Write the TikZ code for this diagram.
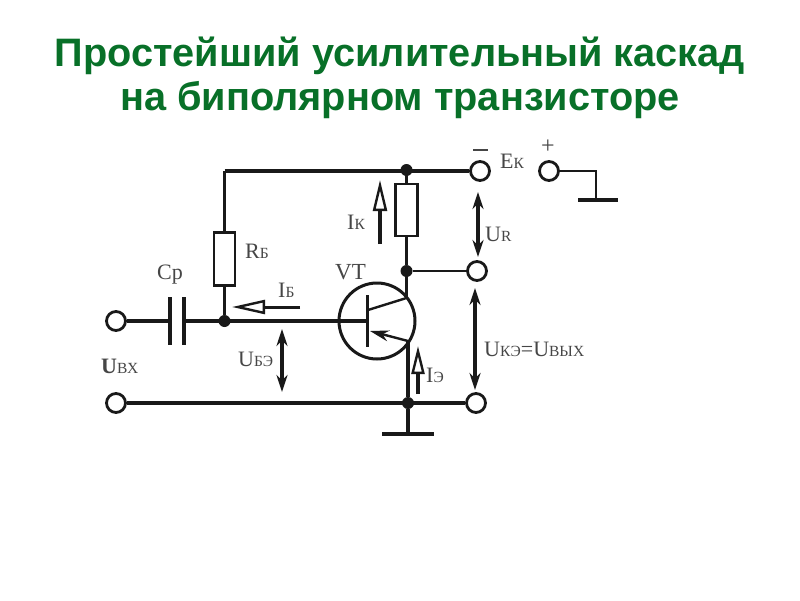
\documentclass[tikz,border=0pt]{standalone}
\usepackage{fontspec}
\setmainfont{Liberation Serif}
\newfontfamily\titlefont{Liberation Sans}
\usetikzlibrary{arrows.meta}
\definecolor{titlegreen}{RGB}{8,112,40}
\definecolor{lab}{RGB}{70,70,70}
\definecolor{ink}{RGB}{25,25,25}
\newcommand{\lbl}[2]{{\fontsize{22}{22}\selectfont #1}{\fontsize{15.5}{15.5}\selectfont #2}}
\tikzset{
  titletext/.style={font=\titlefont\bfseries\fontsize{39.7}{44}\selectfont,text=titlegreen,inner sep=0pt,anchor=center},
  term/.style={circle,draw=ink,line width=2.8pt,fill=white,minimum size=19pt,inner sep=0pt},
  junc/.style={circle,fill=ink,minimum size=12pt,inner sep=0pt},
  res/.style={rectangle,draw=ink,line width=2.4pt,fill=white,inner sep=0pt},
  wthick/.style={draw=ink,line width=3.6pt},
  wmid/.style={draw=ink,line width=2.4pt},
  volt/.style={draw=ink,line width=3.2pt,{Stealth[length=17pt,width=11pt]}-{Stealth[length=17pt,width=11pt]}},
  curr/.style={draw=ink,line width=3.6pt,-{Triangle[open,length=31pt,width=14pt,line width=2.4pt,fill=white]}},
  txt/.style={text=lab,inner sep=0pt}
}
\begin{document}
\begin{tikzpicture}[x=1pt,y=-1pt]
\useasboundingbox[fill=white] (0,0) rectangle (800,600);
\node[titletext] (t1) at (400,56) {Простейший усилительный каскад};
\node[titletext] (t2) at (400,100) {на биполярном транзисторе};

% junctions and terminals
\node[term] (tm) at (480,171) {};
\node[term] (tp) at (549,171) {};
\node[term] (tr) at (477,271) {};
\node[term] (te) at (476,403) {};
\node[term] (ti) at (116,321) {};
\node[term] (tg) at (116,403) {};
\node[res,minimum width=22pt,minimum height=52pt] (rk) at (406.5,210) {};
\node[res,minimum width=21pt,minimum height=53pt] (rb) at (224.5,259) {};
\coordinate (jtopcorner) at (224.5,171);
\coordinate (gpos) at (596,171);
\coordinate (gposb) at (596,200);
\coordinate (gp1) at (578,200);
\coordinate (gp2) at (618,200);
\coordinate (g1) at (382,434);
\coordinate (g2) at (434,434);
\coordinate (gm) at (408,434);
\coordinate (c1) at (170,321);
\coordinate (c2) at (184,321);
\coordinate (c1a) at (170,297);
\coordinate (c1b) at (170,345);
\coordinate (c2a) at (184,297);
\coordinate (c2b) at (184,345);
\coordinate (bar) at (367,321);
\coordinate (bara) at (367,295);
\coordinate (barb) at (367,347);
\coordinate (colin) at (368,310);
\coordinate (colout) at (406.5,298);
\coordinate (emout) at (408,341);
\coordinate (emin) at (370,331);

\draw[wthick] (jtopcorner) -- (tm);
\draw[wmid] (jtopcorner) -- (rb.north);
\draw[wmid] (tp) -- (gpos) -- (gposb);
\draw[draw=ink,line width=3.8pt] (gp1) -- (gp2);
\draw[draw=ink,line width=3.8pt] (g1) -- (g2);
\node[junc] (j1) at (406.5,170) {};
\draw[wmid] (j1) -- (rk.north);
\node[junc] (j2) at (406.5,271) {};
\draw[wmid] (rk.south) -- (j2);
\draw[wmid] (j2) -- (tr);
\node[junc] (j3) at (224.5,321) {};
\draw[wmid] (rb.south) -- (j3);
\node[junc] (j4) at (408,403) {};
\draw[wthick] (ti) -- (c1);
\draw[wthick] (c2) -- (bar);
\draw[wthick] (c1a) -- (c1b);
\draw[wthick] (c2a) -- (c2b);
\draw[wthick] (tg) -- (te);
\draw[wthick] (emout) -- (j4);
\draw[wthick] (j4) -- (gm);

% transistor
\node[circle,draw=ink,line width=3pt,minimum size=76pt,inner sep=0pt] (vt) at (377,321) {};
\draw[wmid] (j2) -- (colout);
\draw[draw=ink,line width=3pt] (bara) -- (barb);
\draw[wmid] (colin) -- (colout);
\draw[draw=ink,line width=2.4pt,-{Stealth[length=19pt,width=11pt]}] (emout) -- (emin);

% current arrows
\coordinate (ika) at (380,244);
\coordinate (ikb) at (380,180);
\coordinate (iba) at (300,307);
\coordinate (ibb) at (232,307);
\coordinate (iea) at (418,394);
\coordinate (ieb) at (418,346);
\draw[curr] (ika) -- (ikb);
\draw[curr,line width=3pt,-{Triangle[open,length=33pt,width=14pt,line width=2.4pt,fill=white]}] (iba) -- (ibb);
\draw[curr,-{Triangle[open,length=28pt,width=13pt,line width=2.4pt,fill=white]}] (iea) -- (ieb);

% voltage arrows
\coordinate (ura) at (478,192);
\coordinate (urb) at (478,257);
\coordinate (uba) at (282,329);
\coordinate (ubb) at (282,392);
\coordinate (uea) at (475,288);
\coordinate (ueb) at (475,390);
\draw[volt] (ura) -- (urb);
\draw[volt] (uba) -- (ubb);
\draw[volt] (uea) -- (ueb);

% polarity
\coordinate (mn1) at (473,150);
\coordinate (mn2) at (488,150);
\draw[draw=lab,line width=1.6pt] (mn1) -- (mn2);
\node[txt,font=\fontsize{24}{24}\selectfont] (plus) at (548,147) {+};

% labels
\node[txt,anchor=west] (lek) at (500,161) {\lbl{Е}{К}};
\node[txt,anchor=west] (lur) at (485,234) {\lbl{U}{R}};
\node[txt,anchor=west] (lik) at (347,222) {\lbl{I}{К}};
\node[txt,anchor=west] (lrb) at (245,251) {\lbl{R}{Б}};
\node[txt,anchor=west] (lcp) at (157,275) {\fontsize{22}{22}\selectfont Ср};
\node[txt,anchor=west] (lvt) at (335,272) {\fontsize{23}{23}\selectfont VT};
\node[txt,anchor=west] (lib) at (278,290) {\lbl{I}{Б}};
\node[txt,anchor=west] (lube) at (238,359) {\lbl{U}{БЭ}};
\node[txt,anchor=west] (luin) at (101,366) {\lbl{\textbf{U}}{ВХ}};
\node[txt,anchor=west] (lie) at (426,375) {\lbl{I}{Э}};
\node[txt,anchor=west] (luk) at (484,349) {\lbl{U}{КЭ}{\fontsize{22}{22}\selectfont =}\lbl{U}{ВЫХ}};
\end{tikzpicture}
\end{document}
